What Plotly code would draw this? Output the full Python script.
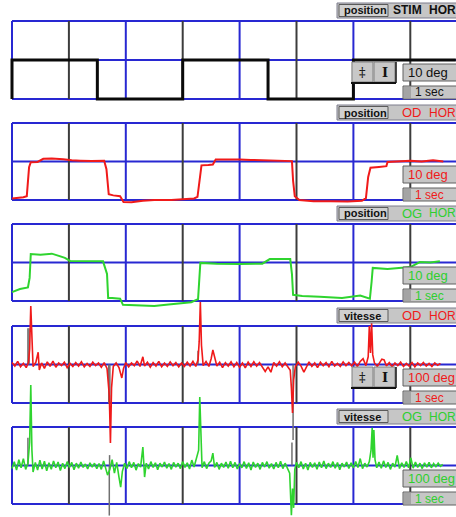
import plotly.graph_objects as go

# ---------------- data ----------------
# stimulus position (deg), step shape
stim_t = [0, 0, 1.5, 3.0, 4.5, 6.0, 7.8]
stim_v = [-10, 0, -10, 0, -10, 0, 0]

# right eye (OD) horizontal position (deg)
od_pos_t = [0.00, 0.10, 0.20, 0.26, 0.28, 0.30, 0.33, 0.45, 0.55, 0.70, 0.90, 1.05, 1.20, 1.40, 1.62,
            1.66, 1.70, 1.78, 1.90, 1.96, 2.10, 2.30, 2.50, 2.80, 3.00, 3.20, 3.26, 3.30, 3.33, 3.45,
            3.53, 3.58, 3.80, 4.00, 4.20, 4.40, 4.60, 4.80, 4.92, 4.94, 4.97, 5.05, 5.30, 5.60, 5.90,
            6.15, 6.22, 6.26, 6.30, 6.45, 6.58, 6.60, 6.80, 7.00, 7.20, 7.40, 7.58]
od_pos_v = [-9.6, -9.5, -9.3, -9.0, -6.0, -1.5, -0.2, -0.1, 0.7, 0.8, 0.6, 0.3, 0.2, 0.1, 0.2,
            -2.0, -8.5, -8.8, -9.0, -10.5, -10.6, -10.2, -10.0, -10.0, -9.8, -9.6, -9.2, -5.0, -1.0, -0.9,
            -0.8, 0.5, 0.6, 0.5, 0.4, 0.3, 0.2, 0.2, 0.1, -5.0, -9.0, -10.0, -10.3, -10.3, -10.4,
            -10.2, -9.5, -4.0, -1.6, -1.4, -1.2, -0.1, 0.0, 0.2, 0.0, 0.3, 0.0]

# left eye (OG) horizontal position (deg)
og_pos_t = [0.00, 0.14, 0.28, 0.31, 0.33, 0.50, 0.70, 0.93, 1.02, 1.30, 1.60, 1.67, 1.69, 1.76, 1.90,
            1.95, 2.20, 2.50, 2.75, 2.95, 3.15, 3.27, 3.29, 3.31, 3.60, 4.00, 4.40, 4.53, 4.89, 4.92,
            4.94, 5.10, 5.41, 5.80, 6.12, 6.29, 6.32, 6.34, 6.60, 6.82, 7.00, 7.17, 7.35, 7.52]
og_pos_v = [-7.7, -6.9, -6.5, -4.0, 2.2, 2.0, 2.3, 1.2, 0.4, 0.4, 0.3, -3.0, -9.2, -9.2, -9.4,
            -11.0, -11.2, -11.3, -10.9, -10.6, -10.3, -9.5, -5.0, -0.1, -0.3, -0.4, -0.3, 0.9, 0.9, -3.0,
            -8.4, -8.7, -8.9, -9.2, -8.6, -9.4, -5.0, -1.4, -1.7, -1.5, -1.2, 0.1, 0.0, 0.3]

# right eye (OD) horizontal velocity (deg/s)
od_vel_t = [0.00, 0.05, 0.10, 0.15, 0.20, 0.25, 0.29, 0.31, 0.33, 0.35, 0.37, 0.42, 0.46, 0.48, 0.52,
            0.57, 0.62, 0.67, 0.72, 0.77, 0.82, 0.87, 0.92, 0.97, 1.02, 1.07, 1.12, 1.17, 1.22, 1.27,
            1.32, 1.37, 1.42, 1.47, 1.52, 1.57, 1.62, 1.67, 1.71, 1.73, 1.75, 1.78, 1.83, 1.88, 1.93,
            1.96, 2.00, 2.05, 2.10, 2.15, 2.20, 2.25, 2.30, 2.33, 2.38, 2.43, 2.48, 2.53, 2.58, 2.63,
            2.68, 2.73, 2.78, 2.83, 2.88, 2.93, 2.98, 3.03, 3.08, 3.13, 3.18, 3.23, 3.27, 3.29, 3.31,
            3.33, 3.36, 3.41, 3.46, 3.50, 3.53, 3.56, 3.60, 3.65, 3.70, 3.75, 3.80, 3.85, 3.90, 3.95,
            4.00, 4.05, 4.10, 4.15, 4.20, 4.25, 4.30, 4.35, 4.40, 4.45, 4.50, 4.55, 4.60, 4.65, 4.70,
            4.75, 4.80, 4.85, 4.89, 4.91, 4.93, 4.95, 4.98, 5.03, 5.08, 5.13, 5.17, 5.22, 5.27, 5.32,
            5.37, 5.42, 5.47, 5.52, 5.57, 5.62, 5.67, 5.72, 5.77, 5.82, 5.87, 5.92, 5.97, 6.02, 6.07,
            6.12, 6.17, 6.22, 6.26, 6.28, 6.30, 6.32, 6.34, 6.37, 6.42, 6.47, 6.50, 6.54, 6.58, 6.63,
            6.68, 6.73, 6.78, 6.83, 6.88, 6.93, 6.98, 7.03, 7.08, 7.13, 7.18, 7.23, 7.28, 7.33, 7.38,
            7.43, 7.48, 7.53]
od_vel_v = [5, -4, 8, -6, 3, -8, 6, 40, 152, 60, -5, 6, 32, -14, 4,
            -10, 7, -5, 9, -7, 4, -3, 6, -8, 3, -5, 5, -4, 7, -6,
            3, -5, 6, -3, 4, -7, 5, -10, -80, -204, -60, -5, 4, -8, -35,
            -10, 5, -6, 4, -3, 9, -5, 20, -4, 6, -7, 5, -4, 8, -6,
            4, -5, 7, -3, 5, -6, 4, -5, 6, -4, 8, -5, 12, 60, 162,
            50, -3, 8, -5, 15, 38, 20, -4, 6, -8, 5, -4, 7, -6, 5,
            -7, 4, -9, 6, -5, 7, -4, 5, -8, -18, -6, -20, 5, -4, 7,
            -6, 4, -8, -15, -60, -126, -40, -5, 6, -4, -20, -6, 7, -5, 4,
            -8, 6, -3, 5, -6, 8, -4, 3, -5, 7, -3, 5, -4, 6, -5,
            8, 15, -3, 20, 100, 30, 108, 25, 4, -5, 8, 14, 12, -4, 5,
            -6, 4, -3, 6, -5, 3, -4, 5, -6, 4, -3, 5, -4, 3, -5,
            4, -2, 3]

# left eye (OG) horizontal velocity (deg/s)
og_vel_t = [0.00, 0.04, 0.08, 0.12, 0.16, 0.20, 0.24, 0.28, 0.31, 0.33, 0.35, 0.37, 0.41, 0.45, 0.49,
            0.53, 0.57, 0.61, 0.65, 0.69, 0.73, 0.77, 0.81, 0.85, 0.89, 0.93, 0.97, 1.01, 1.05, 1.09,
            1.13, 1.17, 1.21, 1.25, 1.29, 1.33, 1.37, 1.41, 1.45, 1.49, 1.53, 1.57, 1.61, 1.65, 1.68,
            1.72, 1.76, 1.80, 1.84, 1.88, 1.91, 1.94, 1.98, 2.02, 2.06, 2.10, 2.14, 2.18, 2.22, 2.26,
            2.30, 2.33, 2.36, 2.40, 2.44, 2.48, 2.52, 2.56, 2.60, 2.64, 2.68, 2.72, 2.76, 2.80, 2.84,
            2.88, 2.92, 2.96, 3.00, 3.04, 3.08, 3.12, 3.16, 3.20, 3.24, 3.28, 3.30, 3.32, 3.34, 3.38,
            3.42, 3.46, 3.50, 3.53, 3.56, 3.60, 3.64, 3.68, 3.72, 3.76, 3.80, 3.84, 3.88, 3.92, 3.96,
            4.00, 4.04, 4.08, 4.12, 4.16, 4.20, 4.24, 4.28, 4.32, 4.36, 4.40, 4.44, 4.48, 4.52, 4.56,
            4.60, 4.64, 4.68, 4.72, 4.76, 4.80, 4.84, 4.88, 4.91, 4.93, 4.95, 4.97, 5.00, 5.04, 5.08,
            5.12, 5.16, 5.20, 5.24, 5.28, 5.32, 5.36, 5.40, 5.44, 5.48, 5.52, 5.56, 5.60, 5.64, 5.68,
            5.72, 5.76, 5.80, 5.84, 5.88, 5.92, 5.96, 6.00, 6.04, 6.08, 6.12, 6.16, 6.20, 6.24, 6.28,
            6.31, 6.33, 6.345, 6.36, 6.38, 6.41, 6.45, 6.49, 6.53, 6.57, 6.61, 6.65, 6.69, 6.73, 6.77,
            6.81, 6.85, 6.89, 6.93, 6.97, 7.01, 7.05, 7.09, 7.13, 7.17, 7.21, 7.25, 7.29, 7.33, 7.37,
            7.41, 7.45, 7.49, 7.53, 7.57]
og_vel_v = [-8, 10, -12, 15, -6, 18, -10, 6, 60, 209, 40, -17, 8, -12, 14,
            -9, 11, -14, 7, -10, 12, -6, 9, -13, 6, -8, 10, -5, 8, -11,
            6, -7, 9, -5, 4, -9, 7, -4, 6, -8, 5, -10, 12, -7, -25,
            -10, 15, -20, 8, -30, -56, -15, 6, -8, 10, -6, 8, -12, 5, -4,
            48, -30, 6, -9, 10, -5, 7, -11, 6, -4, 9, -7, 5, -10, 8,
            -4, 6, -8, 10, -5, 7, -9, 14, -4, 18, 40, 178, 60, -6, 10,
            -8, 6, 12, 32, -5, 8, -10, 6, -5, 9, -7, 11, -6, 8, -9,
            5, -6, 10, -8, 7, -12, 9, -5, 6, -10, 8, -4, 10, -7, 5,
            -9, 8, -6, 11, -8, 6, -5, -20, -129, -60, -110, -10, 8, -6, 10,
            -9, 6, -12, 8, -5, 7, -10, 9, -6, 12, -8, 6, -5, 10, -7,
            8, -11, 6, -4, 9, -8, 7, -6, 10, -5, 18, -8, 6, -4, 10,
            40, 98, 20, 92, 15, -6, 9, -7, 12, -5, 8, -10, 6, -4, 26,
            -8, 7, -5, 10, -6, 20, -7, 9, -5, 6, -8, 7, -4, 8, -6,
            5, -3, 6, -2, 3]

# dark echo strokes beside the saccade spikes (deg/s)
od_echo_t = [0.28, 0.30, 1.70, 1.72, 3.27, 4.94]
od_echo_v = [94, 94, -101, -101, 36, -196]
og_echo_t = [0.28, 1.71, 1.715, 4.92]
og_echo_v = [72, -130, 27, 60]

# labels
panel_names = ["position", "position", "position", "vitesse", "vitesse"]
panel_eyes = ["STIM", "OD", "OG", "OD", "OG"]
panel_dirs = ["HOR", "HOR", "HOR", "HOR", "HOR"]
panel_amp = ["10 deg", "10 deg", "10 deg", "100 deg", "100 deg"]
panel_time = ["1 sec", "1 sec", "1 sec", "1 sec", "1 sec"]
grid_seconds = [0, 1, 2, 3, 4, 5, 6, 7]

# ---------------- layout geometry ----------------
W, H = 456, 517
X0_PX, PX_PER_SEC = 12.0, 56.9
TOPS = [21, 123, 224, 326, 427]
BOTS = [99, 200, 301, 403, 504]
HALF_SCALE = [10, 10, 10, 100, 100]
TXT_COL = ["#111111", "#f01a1a", "#2fcf2f", "#f01a1a", "#2fcf2f"]
BLUE = "#2828d2"
DARK = "#3c3c3c"
RED = "#f01a1a"
GREEN = "#2fd42f"
FONT = "Liberation Sans"

fig = go.Figure()

yaxes = ["y", "y2", "y3", "y4", "y5"]
layout_axes = {}
for k in range(5):
    mid = (TOPS[k] + BOTS[k]) / 2.0
    half = (BOTS[k] - TOPS[k]) / 2.0
    ppu = half / HALF_SCALE[k]
    rng = [(mid - H) / ppu, mid / ppu]
    name = "yaxis" if k == 0 else f"yaxis{k+1}"
    ax = dict(domain=[0, 1], range=rng, visible=False, fixedrange=True,
              showgrid=False, zeroline=False, anchor="x")
    if k > 0:
        ax["overlaying"] = "y"
    layout_axes[name] = ax

x_range = [-X0_PX / PX_PER_SEC, (W - X0_PX) / PX_PER_SEC]

shapes = []
annotations = []


def py(p):
    return 1 - p / H


def pxx(p):
    return p / W


for k in range(5):
    yr = yaxes[k]
    S = HALF_SCALE[k]
    # horizontal lines: top, middle, bottom
    for yv in (S, 0, -S):
        shapes.append(dict(type="line", xref="x", yref=yr, x0=0, x1=8, y0=yv, y1=yv,
                           line=dict(color=BLUE, width=2), layer="below"))
    # vertical second lines
    for s in grid_seconds:
        shapes.append(dict(type="line", xref="x", yref=yr, x0=s, x1=s, y0=-S, y1=S,
                           line=dict(color=BLUE if s % 2 == 0 else DARK, width=2), layer="below"))

    top, bot = TOPS[k], BOTS[k]
    # title box
    shapes.append(dict(type="rect", xref="paper", yref="paper", x0=pxx(337), x1=pxx(460),
                       y0=py(top - 3), y1=py(top - 18), fillcolor="#c6c6c6",
                       line=dict(color="#7c7c8c", width=1), layer="above"))
    shapes.append(dict(type="rect", xref="paper", yref="paper", x0=pxx(339), x1=pxx(388),
                       y0=py(top - 4.5), y1=py(top - 16.5), fillcolor="#d0d0d0",
                       line=dict(color="#5a5a5a", width=1), layer="above"))
    annotations.append(dict(text=f"<b>{panel_names[k]}</b>", xref="paper", yref="paper",
                            x=pxx(342), y=py(top - 10.5), xanchor="left", yanchor="middle",
                            showarrow=False, font=dict(family=FONT, size=11, color="#111111")))
    if k == 0:
        annotations.append(dict(text=f"<b>{panel_eyes[k]}</b>", xref="paper", yref="paper",
                                x=pxx(391), y=py(top - 10.5), xanchor="left", yanchor="middle",
                                showarrow=False, font=dict(family=FONT, size=12, color="#111111")))
        annotations.append(dict(text=f"<b>{panel_dirs[k]}</b>", xref="paper", yref="paper",
                                x=pxx(427), y=py(top - 10.5), xanchor="left", yanchor="middle",
                                showarrow=False, font=dict(family=FONT, size=12, color="#111111")))
    else:
        annotations.append(dict(text=panel_eyes[k], xref="paper", yref="paper",
                                x=pxx(400), y=py(top - 10.5), xanchor="left", yanchor="middle",
                                showarrow=False, font=dict(family=FONT, size=13, color=TXT_COL[k])))
        annotations.append(dict(text=panel_dirs[k], xref="paper", yref="paper",
                                x=pxx(427), y=py(top - 10.5), xanchor="left", yanchor="middle",
                                showarrow=False, font=dict(family=FONT, size=12, color=TXT_COL[k])))

    # amplitude box
    shapes.append(dict(type="rect", xref="paper", yref="paper", x0=pxx(403), x1=pxx(460),
                       y0=py(top + 60), y1=py(top + 43), fillcolor="#c6c6c6",
                       line=dict(color="#606060", width=1), layer="above"))
    annotations.append(dict(text=panel_amp[k], xref="paper", yref="paper",
                            x=pxx(406), y=py(top + 51.5), xanchor="left", yanchor="middle",
                            showarrow=False, font=dict(family=FONT, size=13, color=TXT_COL[k])))
    # time box
    shapes.append(dict(type="rect", xref="paper", yref="paper", x0=pxx(403), x1=pxx(460),
                       y0=py(top + 78), y1=py(top + 65), fillcolor="#c6c6c6",
                       line=dict(color="#606060", width=1), layer="above"))
    shapes.append(dict(type="rect", xref="paper", yref="paper", x0=pxx(404), x1=pxx(411),
                       y0=py(top + 77), y1=py(top + 66), fillcolor="#a4a4a4",
                       line=dict(width=0), layer="above"))
    annotations.append(dict(text=panel_time[k], xref="paper", yref="paper",
                            x=pxx(413), y=py(top + 71.5), xanchor="left", yanchor="middle",
                            showarrow=False, font=dict(family=FONT, size=12, color=TXT_COL[k])))

    # zoom buttons on panels 1 and 4
    if k in (0, 3):
        for bx0, bx1, sym in ((352, 373, "‡"), (374, 395, "<b>I</b>")):
            shapes.append(dict(type="rect", xref="paper", yref="paper", x0=pxx(bx0), x1=pxx(bx1),
                               y0=py(top + 61), y1=py(top + 41), fillcolor="#c8c8c8",
                               line=dict(color="#808080", width=1), layer="above"))
            annotations.append(dict(text=sym, xref="paper", yref="paper",
                                    x=pxx((bx0 + bx1) / 2), y=py(top + 51), xanchor="center",
                                    yanchor="middle", showarrow=False,
                                    font=dict(family="DejaVu Serif", size=13, color="#111111")))
        shapes.append(dict(type="line", xref="paper", yref="paper", x0=pxx(351), x1=pxx(396),
                           y0=py(top + 62), y1=py(top + 62), line=dict(color="#111111", width=2),
                           layer="above"))
        shapes.append(dict(type="line", xref="paper", yref="paper", x0=pxx(396), x1=pxx(396),
                           y0=py(top + 62), y1=py(top + 41), line=dict(color="#111111", width=1.5),
                           layer="above"))


def echo_xy(ts, vs):
    xs, ys = [], []
    for t, v in zip(ts, vs):
        xs += [t, t, None]
        ys += [0, v, None]
    return xs, ys


# traces
fig.add_trace(go.Scatter(x=stim_t, y=stim_v, mode="lines", line=dict(color="#0a0a0a", width=3, shape="hv"),
                         yaxis="y", hoverinfo="skip"))
fig.add_trace(go.Scatter(x=od_pos_t, y=od_pos_v, mode="lines", line=dict(color=RED, width=2),
                         yaxis="y2", hoverinfo="skip"))
fig.add_trace(go.Scatter(x=og_pos_t, y=og_pos_v, mode="lines", line=dict(color=GREEN, width=2),
                         yaxis="y3", hoverinfo="skip"))
ex, ey = echo_xy(od_echo_t, od_echo_v)
fig.add_trace(go.Scatter(x=ex, y=ey, mode="lines", line=dict(color="#707070", width=1.5),
                         yaxis="y4", hoverinfo="skip", connectgaps=False))
ex, ey = echo_xy(og_echo_t, og_echo_v)
fig.add_trace(go.Scatter(x=ex, y=ey, mode="lines", line=dict(color="#707070", width=1.5),
                         yaxis="y5", hoverinfo="skip", connectgaps=False))
fig.add_trace(go.Scatter(x=od_vel_t, y=od_vel_v, mode="lines", line=dict(color=RED, width=1.6),
                         yaxis="y4", hoverinfo="skip"))
fig.add_trace(go.Scatter(x=og_vel_t, y=og_vel_v, mode="lines", line=dict(color=GREEN, width=1.6),
                         yaxis="y5", hoverinfo="skip"))

fig.update_layout(
    width=W, height=H, margin=dict(l=0, r=0, t=0, b=0),
    paper_bgcolor="white", plot_bgcolor="white", showlegend=False,
    xaxis=dict(domain=[0, 1], range=x_range, visible=False, fixedrange=True,
               showgrid=False, zeroline=False),
    shapes=shapes, annotations=annotations,
    **layout_axes,
)

fig.write_html("out.html", config={"displayModeBar": False},
               post_script="document.body.style.margin='0';document.body.style.overflow='hidden';")
